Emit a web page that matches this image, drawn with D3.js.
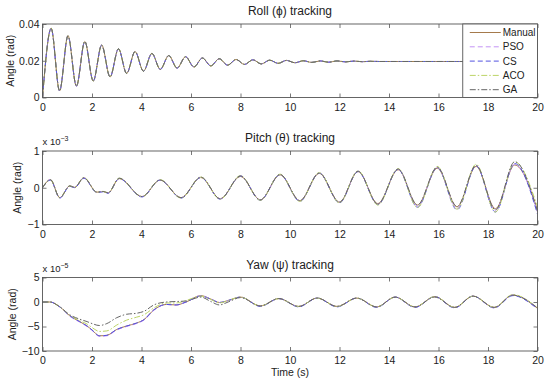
<!DOCTYPE html>
<html>
<head>
<meta charset="utf-8">
<script src="https://cdn.jsdelivr.net/npm/d3@7"></script>
<style>
  body { margin: 0; background: #fff; }
  text { font-family: "Liberation Sans", Arial, Helvetica, sans-serif; fill: #222; }
</style>
</head>
<body>
<script>
// legend order = draw order
var methods = ["Manual", "PSO", "CS", "ACO", "GA"]
var colors = ["#a57a4c", "#c493f5", "#5252e0", "#bcd466", "#666666"]
var dashes = [null, "5,3", "5,3", "6,2,1.5,2", "6,2,1.5,2"]

var timeTicks = [0, 2, 4, 6, 8, 10, 12, 14, 16, 18, 20]

// ---- roll (rad), all five controllers lie on the same curve
var rollT = [0, 0.35, 0.69, 1.03, 1.37, 1.71, 2.05, 2.39, 2.73, 3.07, 3.40, 3.74, 4.08, 4.42, 4.76, 5.10, 5.44, 5.78, 6.12, 6.46, 6.80, 7.14, 7.48, 7.82, 8.16, 8.50, 8.84, 9.18, 9.52, 9.86, 10.20, 10.54, 10.88, 11.22, 11.56, 11.90, 12.24, 12.58, 12.92, 13.26, 13.60, 14.5, 20]
var rollAll = [0, 0.0376, 0.0036, 0.0336, 0.0062, 0.0305, 0.0090, 0.0285, 0.0112, 0.0265, 0.0131, 0.0250, 0.0143, 0.0240, 0.0153, 0.0228, 0.0160, 0.0222, 0.0166, 0.0215, 0.0172, 0.0211, 0.0176, 0.0207, 0.0180, 0.0205, 0.0183, 0.0203, 0.0186, 0.0202, 0.0189, 0.0200, 0.0191, 0.0199, 0.0192, 0.0199, 0.0194, 0.0198, 0.0195, 0.0197, 0.0196, 0.0196, 0.0196]
var rollTicks = [0, 0.02, 0.04]
var rollTickLabels = ["0", "0.02", "0.04"]

// ---- pitch (x 10^-3 rad)
var pitchT = [0, 0.32, 0.70, 1.10, 1.30, 1.67, 2.20, 2.45, 2.65, 3.10, 4.02, 4.75, 5.60, 6.40, 7.18, 8.00, 8.80, 9.60, 10.40, 11.18, 12.00, 12.75, 13.55, 14.37, 15.15, 15.95, 16.75, 17.52, 18.30, 19.08, 20]
var pitchManual = [0, 0.22, -0.27, 0.05, 0.01, 0.27, -0.12, -0.10, -0.14, 0.25, -0.24, 0.21, -0.27, 0.28, -0.30, 0.31, -0.33, 0.35, -0.35, 0.39, -0.39, 0.44, -0.43, 0.49, -0.47, 0.53, -0.52, 0.58, -0.57, 0.62, -0.60]
var pitchPSO = [0, 0.22, -0.27, 0.05, 0.01, 0.27, -0.12, -0.10, -0.14, 0.25, -0.24, 0.21, -0.27, 0.28, -0.30, 0.32, -0.33, 0.36, -0.36, 0.40, -0.40, 0.45, -0.45, 0.50, -0.50, 0.55, -0.56, 0.60, -0.61, 0.64, -0.66]
var pitchCS = [0, 0.21, -0.28, 0.04, 0.00, 0.26, -0.13, -0.11, -0.15, 0.25, -0.25, 0.21, -0.28, 0.28, -0.31, 0.32, -0.34, 0.36, -0.37, 0.40, -0.41, 0.44, -0.46, 0.50, -0.53, 0.55, -0.60, 0.60, -0.66, 0.66, -0.72]
var pitchACO = [0, 0.22, -0.27, 0.05, 0.01, 0.28, -0.12, -0.10, -0.14, 0.26, -0.24, 0.22, -0.28, 0.29, -0.31, 0.33, -0.34, 0.37, -0.37, 0.41, -0.41, 0.46, -0.47, 0.52, -0.54, 0.58, -0.58, 0.64, -0.66, 0.70, -0.52]
var pitchGA = [0, 0.22, -0.27, 0.05, 0.01, 0.27, -0.12, -0.10, -0.14, 0.26, -0.24, 0.21, -0.27, 0.29, -0.30, 0.32, -0.33, 0.36, -0.35, 0.40, -0.39, 0.45, -0.44, 0.51, -0.47, 0.56, -0.51, 0.61, -0.60, 0.71, -0.64]
var pitchTicks = [-1, 0, 1]
var pitchTickLabels = ["\u22121", "0", "1"]

// ---- yaw (x 10^-5 rad)
var yawT = [0, 0.3, 0.7, 1.1, 1.5, 1.8, 2.0, 2.3, 2.6, 3.0, 3.4, 3.8, 4.1, 4.5, 5.0, 5.4, 5.8, 6.4, 6.8, 7.15, 7.5, 8.0, 8.8, 9.55, 10.35, 11.1, 11.9, 12.7, 13.5, 14.25, 15.05, 15.85, 16.65, 17.4, 18.25, 19.0, 20]
var yawManual = [0, 0, -1.0, -2.8, -4.0, -4.9, -5.7, -6.9, -6.8, -5.6, -4.9, -4.3, -3.6, -1.6, -0.5, -0.6, 0.0, 1.3, 0.6, -0.1, 0.3, 1.0, -0.8, 0.7, -0.9, 0.8, -0.9, 0.8, -1.0, 1.0, -1.0, 1.1, -1.1, 1.2, -1.1, 1.4, -1.3]
var yawPSO = [0, 0, -1.0, -2.9, -4.1, -5.0, -5.8, -7.0, -6.9, -5.7, -5.0, -4.4, -3.7, -1.7, -0.5, -0.6, 0.0, 1.3, 0.6, -0.1, 0.3, 1.0, -0.8, 0.7, -0.9, 0.8, -0.9, 0.8, -1.0, 1.0, -1.1, 1.1, -1.2, 1.2, -1.2, 1.4, -1.4]
var yawCS = [0, 0, -1.0, -2.8, -4.0, -4.9, -5.7, -6.9, -6.8, -5.6, -4.9, -4.3, -3.6, -1.6, -0.5, -0.6, 0.0, 1.2, 0.6, -0.1, 0.3, 1.0, -0.9, 0.7, -1.0, 0.8, -1.0, 0.8, -1.1, 1.0, -1.1, 1.1, -1.2, 1.2, -1.2, 1.3, -1.4]
var yawACO = [0, 0, -1.0, -2.7, -3.8, -4.5, -5.2, -6.0, -5.9, -4.7, -3.7, -3.1, -2.6, -1.2, -0.2, -0.2, 0.3, 1.2, 0.5, -0.2, 0.3, 1.0, -0.8, 0.7, -0.9, 0.8, -0.9, 0.8, -1.0, 1.0, -1.0, 1.1, -1.1, 1.2, -1.1, 1.5, -1.2]
var yawGA = [0, 0, -1.0, -2.6, -3.5, -4.0, -4.4, -4.8, -4.4, -3.2, -2.5, -2.3, -1.9, -0.6, 0.0, 0.1, 0.2, 1.0, 0.1, -0.6, 0.0, 0.9, -0.8, 0.7, -0.9, 0.8, -0.9, 0.8, -1.0, 1.0, -1.0, 1.0, -1.1, 1.2, -1.1, 1.4, -1.2]
var yawTicks = [-10, -5, 0, 5]
var yawTickLabels = ["\u221210", "\u22125", "0", "5"]

var width = 550
var height = 386
var left = 42.5, right = 537.5
var ph = 73.5

var panels = [
  { title: "Roll (\u03d5) tracking", top: 24, t: rollT, series: [rollAll, rollAll, rollAll, rollAll, rollAll],
    domain: [0, 0.04], ticks: rollTicks, labels: rollTickLabels, exp: null, ylabX: 10, legend: true },
  { title: "Pitch (\u03b8) tracking", top: 151, t: pitchT, series: [pitchManual, pitchPSO, pitchCS, pitchACO, pitchGA],
    domain: [-1, 1], ticks: pitchTicks, labels: pitchTickLabels, exp: "\u22123", ylabX: 17 },
  { title: "Yaw (\u03c8) tracking", top: 277.5, t: yawT, series: [yawManual, yawPSO, yawCS, yawACO, yawGA],
    domain: [-10, 5], ticks: yawTicks, labels: yawTickLabels, exp: "\u22125", ylabX: 12, xlabel: true }
]

var svg = d3.select("body")
  .append("svg")
    .attr("width", width)
    .attr("height", height)

var x = d3.scaleLinear().domain([0, 20]).range([0, right - left])

panels.forEach(function(p, pi) {
  var y = d3.scaleLinear().domain(p.domain).range([ph, 0])
  var g = svg.append("g").attr("transform", "translate(" + left + "," + p.top + ")")

  g.append("clipPath").attr("id", "clip" + pi)
    .append("rect").attr("width", x.range()[1]).attr("height", ph)

  // axes, ticks pointing inward on all four sides
  g.append("g").attr("transform", "translate(0," + ph + ")")
    .call(d3.axisBottom(x).tickValues(timeTicks).tickSize(-4).tickPadding(6).tickFormat(d3.format("d")))
  g.append("g")
    .call(d3.axisTop(x).tickValues(timeTicks).tickSize(-4).tickFormat(""))
  g.append("g")
    .call(d3.axisLeft(y).tickValues(p.ticks).tickSize(-4).tickPadding(3)
      .tickFormat(function(d, i) { return p.labels[i] }))
  g.append("g").attr("transform", "translate(" + x.range()[1] + ",0)")
    .call(d3.axisRight(y).tickValues(p.ticks).tickSize(-4).tickFormat(""))

  g.selectAll(".domain").remove()
  g.selectAll(".tick line").attr("stroke", "#555").attr("stroke-width", 0.8)
  g.selectAll(".tick text").attr("font-size", "10.5px").attr("fill", "#222")

  // the curves
  var line = d3.line()
    .x(function(d) { return x(d[0]) })
    .y(function(d) { return y(d[1]) })
    .curve(d3.curveMonotoneX)

  var lines = g.append("g").attr("clip-path", "url(#clip" + pi + ")")
  p.series.forEach(function(vals, si) {
    lines.append("path")
      .datum(p.t.map(function(t, i) { return [t, vals[i]] }))
      .attr("d", line)
      .attr("fill", "none")
      .attr("stroke", colors[si])
      .attr("stroke-width", 1)
      .attr("stroke-dasharray", dashes[si])
  })

  g.append("rect")
    .attr("width", x.range()[1]).attr("height", ph)
    .attr("fill", "none").attr("stroke", "#555").attr("stroke-width", 0.9)

  g.append("text")
    .attr("x", x.range()[1] / 2).attr("y", -9)
    .attr("text-anchor", "middle").attr("font-size", "12px")
    .text(p.title)

  svg.append("text")
    .attr("transform", "translate(" + p.ylabX + "," + (p.top + ph / 2) + ") rotate(-90)")
    .attr("text-anchor", "middle").attr("dy", "0.35em").attr("font-size", "10.5px")
    .text("Angle (rad)")

  if (p.exp) {
    var e = g.append("text").attr("x", 0).attr("y", -6).attr("font-size", "9.5px")
    e.append("tspan").text("x 10")
    e.append("tspan").attr("dy", -4).attr("font-size", "7px").text(p.exp)
  }

  if (p.xlabel) {
    g.append("text")
      .attr("x", x.range()[1] / 2).attr("y", ph + 25)
      .attr("text-anchor", "middle").attr("font-size", "10.5px")
      .text("Time (s)")
  }

  if (p.legend) {
    var lx = x(17) - 0.5
    var lg = g.append("g").attr("transform", "translate(" + lx + ",0)")
    lg.append("rect")
      .attr("width", x.range()[1] - lx).attr("height", ph)
      .attr("fill", "#fff").attr("stroke", "#555").attr("stroke-width", 0.9)
    methods.forEach(function(m, i) {
      var yy = 8.5 + i * 14.3
      lg.append("line")
        .attr("x1", 7).attr("x2", 38).attr("y1", yy).attr("y2", yy)
        .attr("stroke", colors[i]).attr("stroke-width", 1)
        .attr("stroke-dasharray", dashes[i])
      lg.append("text")
        .attr("x", 40).attr("y", yy).attr("dy", "0.35em")
        .attr("font-size", "10px")
        .text(m)
    })
  }
})
</script>
</body>
</html>
